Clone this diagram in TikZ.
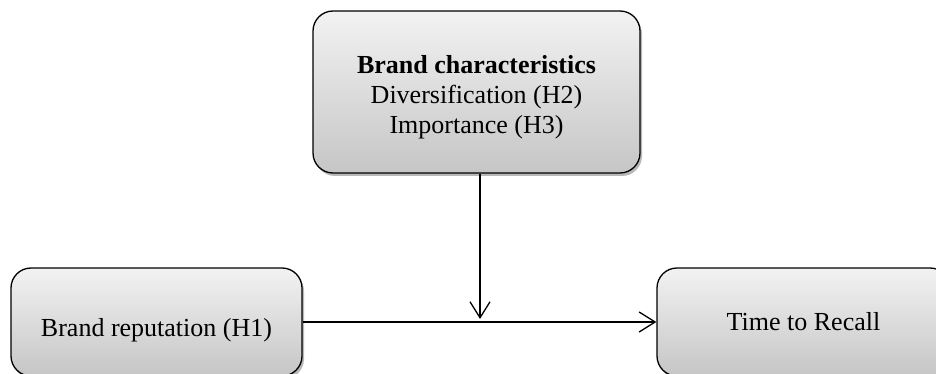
\documentclass[tikz,border=0pt]{standalone}
\usepackage{fontspec}
\setmainfont{Liberation Serif}
\usetikzlibrary{arrows.meta,shadows}
\begin{document}
\begin{tikzpicture}[x=1pt,y=1pt,
  box/.style={draw=black, line width=1.3pt, rounded corners=20pt,
    top color=gray!10, bottom color=gray!45, align=center,
    font=\fontsize{26}{30}\selectfont, inner sep=0pt,
    drop shadow={shadow xshift=2pt, shadow yshift=-3pt, fill=gray!70, opacity=0.8}},
  conn/.style={line width=1.3pt, -{Straight Barb[length=16pt,width=20pt,line width=1.3pt]}}
]
\useasboundingbox (0,0) rectangle (936,-374);
\node[box, minimum width=327pt, minimum height=162pt] (top) at (476.5,-92)
  {\raisebox{-6pt}[\height][\depth]{\begin{tabular}{@{}c@{}}\textbf{Brand characteristics}\\Diversification (H2)\\Importance (H3)\end{tabular}}};
\node[box, minimum width=291pt, minimum height=108pt] (left) at (156.5,-322)
  {\raisebox{-8pt}[\height][\depth]{Brand reputation (H1)}};
\node[box, minimum width=293pt, minimum height=108pt] (right) at (803.5,-322)
  {Time to Recall};
\coordinate (mid) at (480,-322);
\draw[conn] (left.east) -- (right.west);
\draw[conn, shorten >=3pt] (top.south -| mid) -- (mid);
\end{tikzpicture}
\end{document}
